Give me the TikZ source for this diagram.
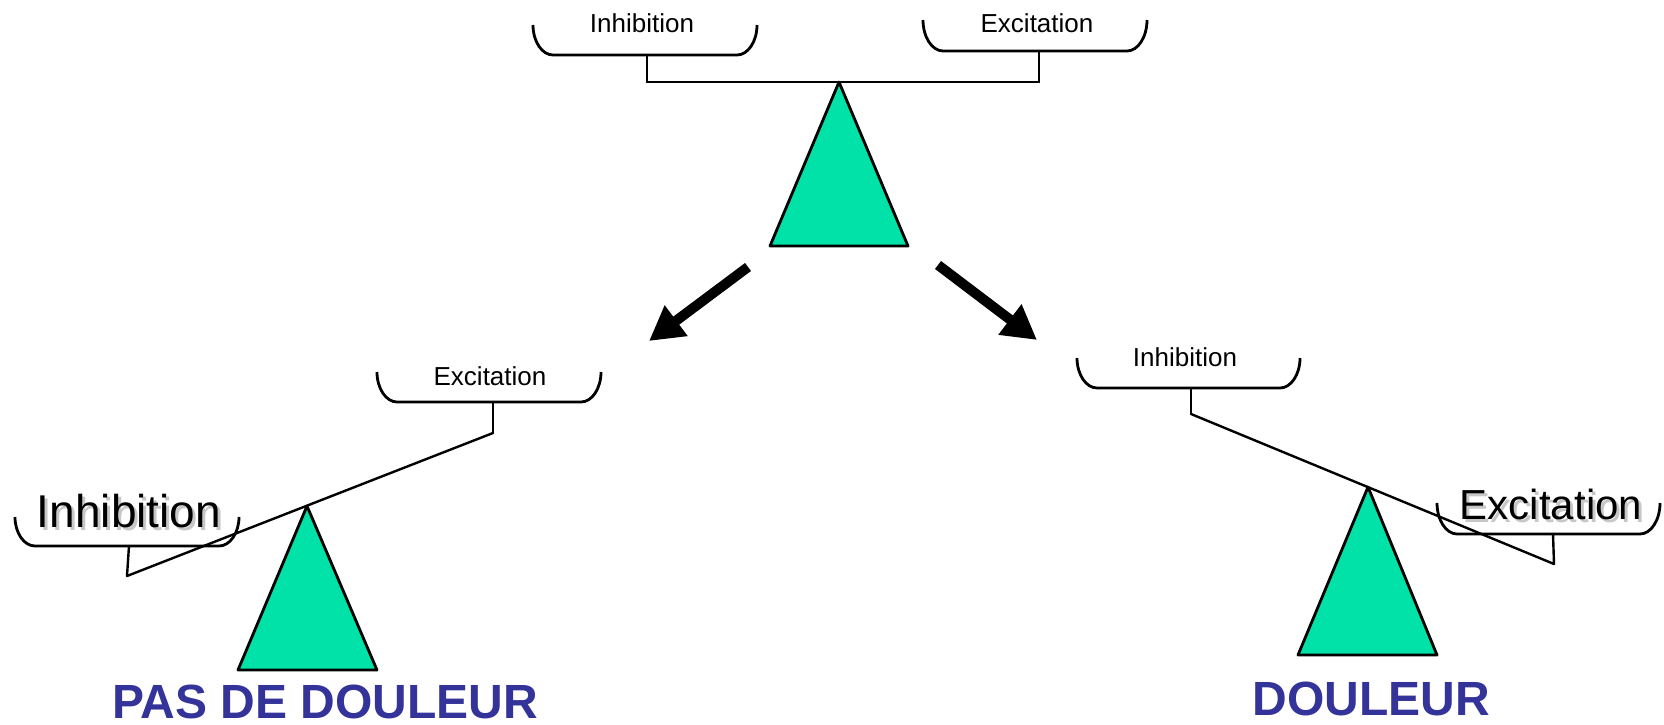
\documentclass[tikz,border=0pt]{standalone}
\usepackage{fontspec}
\setmainfont{Liberation Sans}
\usepackage{tkz-euclide}
\usetikzlibrary{arrows.meta}
\definecolor{scalegreen}{RGB}{0,226,168}
\definecolor{painblue}{RGB}{51,51,153}
\tikzset{
  pan/.style={line width=2.8pt},
  lab/.style={anchor=base, inner sep=0pt, font=\fontsize{26}{30}\selectfont},
  biglab/.style={anchor=base, inner sep=0pt, font=\fontsize{#1}{#1}\selectfont},
  verdict/.style={anchor=base, inner sep=0pt, text=painblue, font=\bfseries\fontsize{48}{50}\selectfont},
  bigarrow/.style={line width=10pt, -{Triangle[length=34pt,width=36pt]}}
}
\newcommand{\plateau}[4]{%
  \draw[pan] (#1,#3) .. controls (#1,{#3-0.55*(#3-#4)}) and ({#1+9},#4) .. ({#1+20},#4)
    -- ({#2-20},#4) .. controls ({#2-9},#4) and (#2,{#3-0.55*(#3-#4)}) .. (#2,#3);}

\begin{document}
\begin{tikzpicture}[x=1pt,y=1pt]
    \useasboundingbox (0,0) rectangle (1664,724);
    % balance au repos
    \tkzDefPoints{839/642/T, 770/478/U, 908/478/V, 647/642/P, 1039/642/Q, 647/669/Pu, 1039/673/Qu}
    \tkzDrawPolygon[fill=scalegreen, line width=2.8pt](T,U,V)
    \tkzDrawSegments[line width=2.4pt](Pu,P P,Q Q,Qu)
    \plateau{533}{757}{699}{669}
    \plateau{923}{1147}{704}{673}
    \node[lab] (inh) at (642,691) {Inhibition};
    \node[lab] (exc) at (1037,691) {Excitation};
    % pas de douleur
    \tkzDefPoints{307/218/Tl, 238/54/Ul, 377/54/Vl, 127/148/Pl, 493/291/Ql, 129/178/Plu, 493/322/Qlu}
    \tkzDrawPolygon[fill=scalegreen, line width=2.8pt](Tl,Ul,Vl)
    \tkzDrawSegments[line width=2.4pt](Plu,Pl Pl,Ql Ql,Qlu)
    \plateau{15}{239}{207}{178}
    \plateau{377}{601}{352}{322}
    \node[biglab=46, text=black!22] (inhLs) at (132,194) {Inhibition};
    \node[biglab=46] (inhL) at (129,197) {Inhibition};
    \node[lab] (excL) at (490,339) {Excitation};
    \node[verdict] (calme) at (325,6) {PAS DE DOULEUR};
    % douleur
    \tkzDefPoints{1368/237/Tr, 1298/69/Ur, 1437/69/Vr, 1191/310/Pr, 1554/160/Qr, 1191/336/Pru, 1553/190/Qru}
    \tkzDrawPolygon[fill=scalegreen, line width=2.8pt](Tr,Ur,Vr)
    \tkzDrawSegments[line width=2.4pt](Pru,Pr Pr,Qr Qr,Qru)
    \plateau{1077}{1300}{366}{336}
    \plateau{1437}{1660}{221}{190}
    \node[lab] (inhR) at (1185,358) {Inhibition};
    \node[biglab=42, text=black!22] (excRs) at (1554,202) {Excitation};
    \node[biglab=42] (excR) at (1551,205) {Excitation};
    \node[verdict] (mal) at (1371,9) {DOULEUR};
    % fleches
    \coordinate (g1) at (748,457);
    \coordinate (g2) at (649,383);
    \coordinate (d1) at (938,459);
    \coordinate (d2) at (1037,384);
    \draw[bigarrow] (g1) -- (g2);
    \draw[bigarrow] (d1) -- (d2);
\end{tikzpicture}
\end{document}
